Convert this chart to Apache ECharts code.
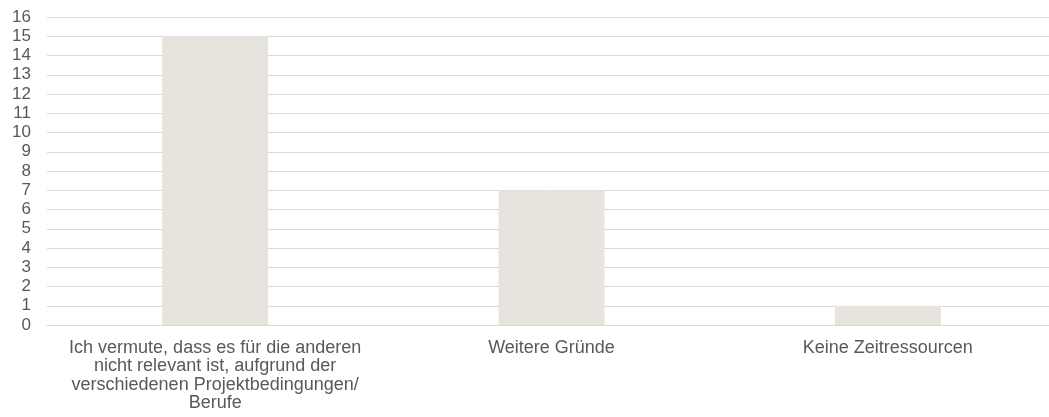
<!DOCTYPE html>
<html>
<head>
<meta charset="utf-8">
<script src="https://cdn.jsdelivr.net/npm/echarts@6/dist/echarts.min.js"></script>
<style>
  html, body { margin: 0; padding: 0; background: #fff; overflow: hidden; }
  /* plot area runs a few pixels past the right edge in the reference */
  #chart { width: 1056px; height: 417px; }
</style>
</head>
<body>
<div id="chart"></div>
<script>
const categories = [
  "Ich vermute, dass es für die anderen\nnicht relevant ist, aufgrund der\nverschiedenen Projektbedingungen/\nBerufe",
  "Weitere Gründe",
  "Keine Zeitressourcen"
];
const counts = [15, 7, 1];

const chart = echarts.init(document.getElementById("chart"));

const option = {
  animation: false,
  grid: {
    left: 47,
    right: 0,
    top: 17,
    bottom: 92
  },
  xAxis: {
    type: "category",
    data: categories,
    axisLine: { show: true, lineStyle: { color: "#d9d9d9", width: 1 } },
    axisTick: { show: false },
    axisLabel: {
      interval: 0,
      margin: 14,
      color: "#595959",
      fontFamily: "Liberation Sans, Arial, sans-serif",
      fontSize: 18,
      lineHeight: 18.3,
      align: "center"
    }
  },
  yAxis: {
    type: "value",
    min: 0,
    max: 16,
    interval: 1,
    axisLine: { show: false },
    axisTick: { show: false },
    axisLabel: {
      margin: 16,
      color: "#595959",
      fontFamily: "Liberation Sans, Arial, sans-serif",
      fontSize: 17
    },
    splitLine: {
      lineStyle: { color: "#d9d9d9", width: 1 }
    }
  },
  series: [
    {
      type: "bar",
      data: counts,
      barWidth: 106,
      itemStyle: { color: "#e7e4dd" }
    }
  ]
};

chart.setOption(option);
</script>
</body>
</html>
